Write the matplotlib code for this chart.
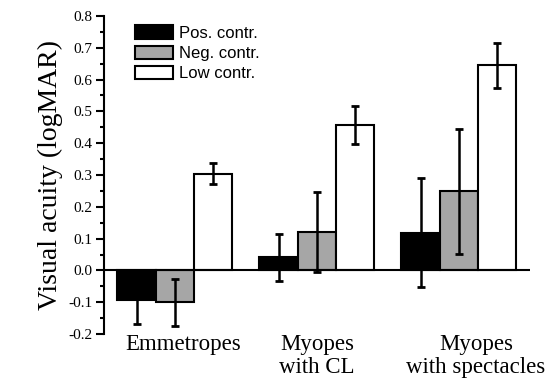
import numpy as np
import matplotlib.pyplot as plt
from matplotlib.ticker import MultipleLocator

groups = ['Emmetropes', 'Myopes\nwith CL', 'Myopes\nwith spectacles']
series = ['Pos. contr.', 'Neg. contr.', 'Low contr.']
pos_vals = [-0.092, 0.042, 0.119]
pos_err = [0.077, 0.074, 0.17]
neg_vals = [-0.10, 0.121, 0.249]
neg_err = [0.074, 0.125, 0.197]
low_vals = [0.304, 0.457, 0.645]
low_err = [0.033, 0.061, 0.07]
colors = ['black', '#a6a6a6', 'white']

fig = plt.figure(figsize=(5.59, 3.8), dpi=100)
ax = fig.add_axes([0.186, 0.121, 0.762, 0.837])

x = np.arange(len(groups))
w = 0.27
for k, (vals, errs) in enumerate([(pos_vals, pos_err), (neg_vals, neg_err), (low_vals, low_err)]):
    ax.bar(x + (k - 1) * w, vals, w, color=colors[k], edgecolor='black', linewidth=1.5,
           label=series[k], zorder=2)
    ax.errorbar(x + (k - 1) * w, vals, yerr=errs, fmt='none', ecolor='black',
                elinewidth=1.8, capsize=2.6, capthick=2.0, zorder=3)

ax.axhline(0, color='black', linewidth=1.5, zorder=4)
ax.set_xlim(-0.5, 2.5)
ax.set_ylim(-0.2, 0.8)
ax.yaxis.set_minor_locator(MultipleLocator(0.05))
ax.set_yticks(np.arange(-0.2, 0.81, 0.1))
ax.set_yticklabels(['%.1f' % v for v in np.arange(-0.2, 0.81, 0.1)],
                   family='Liberation Serif', fontsize=11)
ax.tick_params(axis='y', which='major', direction='out', length=6, width=1.5, pad=2)
ax.tick_params(axis='y', which='minor', direction='out', length=3, width=1.5)

# group labels sit a little right of the group centre in the original
ax.set_xticks(x + np.array([0.06, 0.0, 0.12]))
ax.set_xticklabels(groups, family='Liberation Serif', fontsize=16.5, linespacing=1.1)
ax.tick_params(axis='x', length=0, pad=0)

for s in ['top', 'right', 'bottom']:
    ax.spines[s].set_visible(False)
ax.spines['left'].set_linewidth(1.5)

ax.set_ylabel('Visual acuity (logMAR)', family='Liberation Serif', fontsize=20, labelpad=4)

leg = ax.legend(loc='upper left', bbox_to_anchor=(0.038, 1.018), frameon=False,
                prop={'family': 'Liberation Sans', 'size': 12}, handlelength=2.3,
                handleheight=0.85, handletextpad=0.35, labelspacing=0.3)

fig.savefig('out.png', dpi=100)
